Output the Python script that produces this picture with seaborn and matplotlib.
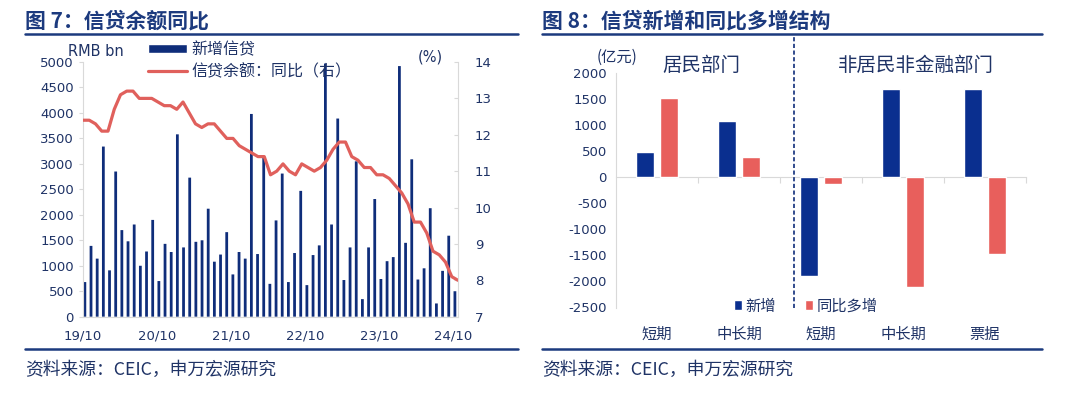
import matplotlib
matplotlib.use('Agg')
import matplotlib.pyplot as plt
from matplotlib.lines import Line2D
from matplotlib.patches import Patch
import seaborn as sns
import numpy as np
import pandas as pd

# chart 7 data - monthly new loans (RMB bn) and loan balance yoy (%), 2019/10 - 2024/10
new_loans = [680, 1390, 1140, 3340, 910, 2850, 1700, 1480, 1810, 1000, 1280, 1900, 700, 1430, 1270, 3580,
             1360, 2730, 1470, 1500, 2120, 1080, 1220, 1660, 830, 1270, 1140, 3980, 1230, 3130, 645,
             1890, 2810, 680, 1250, 2470, 620, 1210, 1400, 4970, 1810, 3890, 720, 1360, 3050,
             345, 1360, 2310, 740, 1090, 1170, 4920, 1450, 3090, 730, 950, 2130, 260, 900, 1590, 500]
loan_yoy = [12.4, 12.4, 12.3, 12.1, 12.1, 12.7, 13.1, 13.2, 13.2, 13.0, 13.0, 13.0, 12.9, 12.8, 12.8,
            12.7, 12.9, 12.6, 12.3, 12.2, 12.3, 12.3, 12.1, 11.9, 11.9, 11.7, 11.6,
            11.5, 11.4, 11.4, 10.9, 11.0, 11.2, 11.0, 10.9, 11.2, 11.1, 11.0, 11.1,
            11.3, 11.6, 11.8, 11.8, 11.4, 11.3, 11.1, 11.1, 10.9, 10.9, 10.8, 10.6,
            10.4, 10.1, 9.6, 9.6, 9.3, 8.8, 8.7, 8.5, 8.1, 8.0]
year_ticks = ['19/10', '20/10', '21/10', '22/10', '23/10', '24/10']

# chart 8 data - 亿元
cat_labels = ['短期', '中长期', '短期', '中长期', '票据']
new_add = [490, 1090, -1890, 1700, 1690]
yoy_more = [1530, 400, -130, -2110, -1480]

NAVY = '#0F2D7A'
BLUE = '#0A2F8F'
RED = '#E0605C'
RED2 = '#E85F5C'
TXT = '#1F3366'
TITLE = '#1C3A7E'
GRID = '#D9D9D9'
CJK = ['Noto Sans CJK SC', 'DejaVu Sans']

sns.set_style('white')
plt.rcParams['font.family'] = ['DejaVu Sans', 'Noto Sans CJK SC']
plt.rcParams['axes.unicode_minus'] = False

W, H = 1075, 397
fig = plt.figure(figsize=(W / 100, H / 100), dpi=100)

# chart 7 -------
ax1 = fig.add_axes([83 / W, 1 - 316.7 / H, 375 / W, 254.7 / H])
bar_pos = np.arange(len(new_loans)) + 0.3
sns.barplot(x=bar_pos, y=new_loans, native_scale=True, width=0.45, color=NAVY,
            saturation=1, errorbar=None, linewidth=0, ax=ax1)
# no pixel snapping so all thin bars look the same
for p in ax1.patches:
    p.set_snap(False)
ax1.set_xlim(0, 60.8)
ax1.set_ylim(0, 5000)
ax1.set_yticks(range(0, 5001, 500))
ax1.set_xticks([0, 12, 24, 36, 48, 60])
ax1.set_xticklabels(year_ticks)
ax1.set_xlabel('')
ax1.set_ylabel('')
for s in ['top', 'right']:
    ax1.spines[s].set_visible(False)
for s in ['left', 'bottom']:
    ax1.spines[s].set_color(GRID)
ax1.tick_params(axis='both', labelsize=9.5, colors=GRID, labelcolor=TXT, length=3, direction='out')
ax1.tick_params(axis='x', pad=6)

ax2 = ax1.twinx()
x_line = np.linspace(0, 60.8, len(loan_yoy))
sns.lineplot(x=x_line, y=loan_yoy, color=RED, lw=2.3, ax=ax2)
ax2.set_ylim(7, 14)
ax2.set_yticks(range(7, 15))
ax2.set_ylabel('')
for s in ['top', 'left', 'bottom']:
    ax2.spines[s].set_visible(False)
ax2.spines['right'].set_color(GRID)
ax2.tick_params(axis='y', labelsize=9.5, colors=GRID, labelcolor=TXT, length=3, direction='in', pad=12)

fig.text(68 / W, 1 - 51 / H, 'RMB bn', fontsize=10.5, color=TXT, va='center')
fig.text(418 / W, 1 - 57 / H, '(%)', fontsize=10.5, color=TXT, va='center')

h1 = [Patch(facecolor=NAVY), Line2D([0], [0], color=RED, lw=2.3)]
leg = ax2.legend(h1, ['新增信贷', '信贷余额：同比（右）'], loc='upper left',
                 bbox_to_anchor=(148 / W, 1 - 41 / H), bbox_transform=fig.transFigure,
                 frameon=False, borderpad=0, borderaxespad=0, handlelength=2.45,
                 handleheight=0.45, handletextpad=0.25, labelspacing=0.3,
                 prop={'family': CJK, 'size': 11.5})
for t in leg.get_texts():
    t.set_color(TXT)

# chart 8 -------
ax3 = fig.add_axes([616 / W, 1 - 307.5 / H, 410 / W, 234.2 / H])
keys = ['k0', 'k1', 'k2', 'k3', 'k4']
df = pd.DataFrame({'key': keys * 2,
                   'series': ['新增'] * 5 + ['同比多增'] * 5,
                   'value': new_add + yoy_more})
sns.barplot(data=df, x='key', y='value', hue='series', order=keys,
            hue_order=['新增', '同比多增'], palette={'新增': BLUE, '同比多增': RED2},
            width=0.58, gap=0.22, saturation=1, errorbar=None, legend=False, ax=ax3)
ax3.set_xlim(-0.5, 4.5)
ax3.set_ylim(-2500, 2000)
ax3.set_yticks(range(-2500, 2001, 500))
ax3.set_xlabel('')
ax3.set_ylabel('')
ax3.set_xticks(range(5))
ax3.set_xticklabels(cat_labels, fontsize=11, color=TXT, family=CJK)
ax3.tick_params(axis='x', length=0, pad=13)
ax3.tick_params(axis='y', labelsize=9.5, colors=GRID, labelcolor=TXT, length=3, direction='out')
for s in ['top', 'right', 'bottom']:
    ax3.spines[s].set_visible(False)
ax3.spines['left'].set_color(GRID)

# zero line with category boundary ticks
sec = ax3.secondary_xaxis(2500 / 4500)
sec.set_alignment('bottom')
sec.set_xticks([0.5, 1.5, 2.5, 3.5, 4.5])
sec.tick_params(length=4, color=GRID, labelbottom=False, labeltop=False)
sec.spines['bottom'].set_color(GRID)

ax3.axvline(1.67, ymin=0, ymax=1.155, clip_on=False, color=NAVY, lw=1.2, ls=(0, (2.5, 1.5)))

fig.text(617 / W, 1 - 57 / H, '(亿元)', fontsize=11, color=TXT, ha='center', va='center', family=CJK)
fig.text(701.7 / W, 1 - 65 / H, '居民部门', fontsize=14, color=TXT, ha='center', va='center', family=CJK)
fig.text(916 / W, 1 - 65 / H, '非居民非金融部门', fontsize=14, color=TXT, ha='center', va='center', family=CJK)

h2 = [Patch(facecolor=BLUE), Patch(facecolor=RED2)]
leg2 = ax3.legend(h2, ['新增', '同比多增'], loc='center', ncol=2,
                  bbox_to_anchor=(805.5 / W, 1 - 306 / H), bbox_transform=fig.transFigure,
                  frameon=False, borderpad=0, borderaxespad=0, handlelength=0.55,
                  handleheight=0.55, handletextpad=0.2, columnspacing=1.9,
                  prop={'family': CJK, 'size': 11})
for t in leg2.get_texts():
    t.set_color(TXT)

# titles, rules and sources
for x0, x1, title in [(25, 518, '图 7：信贷余额同比'), (542, 1042, '图 8：信贷新增和同比多增结构')]:
    fig.text(x0 / W, 1 - 21 / H, title, fontsize=15, fontweight='bold', color=TITLE,
             va='center', family=CJK)
    fig.add_artist(Line2D([x0 / W, x1 / W], [1 - 34 / H] * 2, color=TITLE, lw=1.8))
    fig.add_artist(Line2D([x0 / W, x1 / W], [1 - 349 / H] * 2, color=TITLE, lw=1.8))
    fig.text(x0 / W, 1 - 370 / H, '资料来源：CEIC，申万宏源研究', fontsize=12.8, color=TXT,
             va='center', family=CJK)

fig.savefig('out.png', dpi=100)
